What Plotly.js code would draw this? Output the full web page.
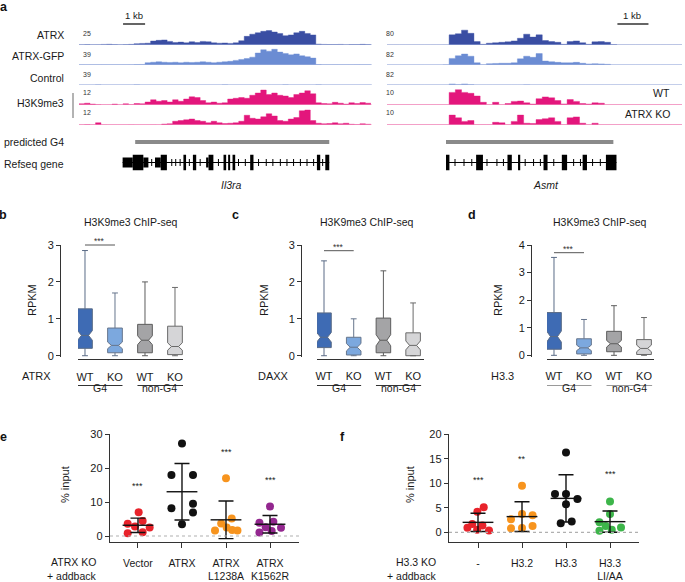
<!DOCTYPE html>
<html><head><meta charset="utf-8">
<script src="https://cdn.plot.ly/plotly-3.0.1.min.js"></script>
<style>html,body{margin:0;padding:0;background:#fff}#chart{width:685px;height:582px}</style>
</head><body><div id="chart"></div>
<script>
// ================= DATA =================
// --- panel a: coverage tracks (binned signal) ---
const il3raBinKb = 0.25;   // Il3ra locus bins
const asmtBinKb = 0.2;     // Asmt locus bins
const il3raAtrx = [0.5,0.6,0.4,0.5,0.8,1.0,0.7,0.5,0.6,0.9, 1.8,2.2,2.5, 5.5,6.5,7,5, 3.5,4,3,4.5,3.5, 5,4.5, 3,2.5,2.8,2.2,3, 6, 12,15,17,19, 20,18,16, 13,14, 17,19,16,14, 1.2,0.8,0.7,0.6,0.8,0.5,0.7,0.6,0.9,0.6];
const il3raAtrxGfp = [0.5,0.4,0.6,0.5,0.7,0.5,0.6,0.5,0.6,0.8,0.9,1.2, 5,6,7,6,5.5,6,5,6,5.5,6,7,6,5,6,7,8, 10,12,14,17, 26,33,30,34,28,25, 22,24,20,18,15, 1,0.6,0.5,0.7,0.5,0.6,0.5,0.8,0.5,0.6];
const il3raControl = [0.2,0.2,0.2,0.8,0.2,0.2,0.2,0.2,0.2,0.2, 0.8,0.2,0.2,0.2,0.2,0.2,0.2,0.2,0.2,0.2, 0.2,0.2,0.2,0.2,0.2,0.2,0.8,0.2,0.2,0.2, 0.2,0.2,0.2,0.2,0.2,0.2,0.2,0.8,0.2,0.2, 0.2,0.2,0.2,0.8,0.2,0.2,0.2,0.2,0.2,0.2, 0.2,0.2,0.2];
const il3raK9Wt = [0.8,1.2,0.6,0.3,0.2, 0.2,0.6,0.2,0.8,0.3,1.0,0.8, 2,3.5,2.5,3,2, 3.5,2.5,4,5.5,5,3, 1.5,2,1.2,1.5, 4,4.5,5,4.5, 6.5,8,10, 7,8,6.5,6, 5,7,8,9.5,7.5, 1.5,1,0.8,1.8,1.2,0.6,1.5,1,1.6,1.2];
const il3raK9Ko = [0.2,0.3,0.2,1.5,0.2, 0.1,0.1,0.1,0.1,0.2,0.1,0.1, 0.1,0.2,0.1,0.6,0.8, 2.5,3,3.5,4,3,2.5, 1.5,2.5,1.5,1, 1.2,1.5,2.5, 6.5,4.5,4,5.5, 7.5,6,3,2.5, 4,5,9.5,10,3, 1.2,0.8,1,1.5,0.8,1.2,0.5,0.3,0.8,0.5];

const asmtAtrx = [0.3,0.3,0.3,0.3,0.3,0.3,0.3,0.3,0.3,0.5, 45,50,66,52,15, 3, 8,10,12,14,18, 30,48,35,45, 20,15,12, 3, 15,18,10, 3, 14,15,12, 2, 0.3,0.3,0.3,0.3,0.3,0.3,0.3,0.3,0.3,0.3,0.3];
const asmtAtrxGfp = [0.4,0.3,0.4,0.3,0.3,0.4,0.3,0.3,0.4,0.6, 30,42,50,40,10, 1, 6,7,8,8,10, 28,40,35,52, 18,15,12,10, 10,12,8, 5,6,5,3, 0.4,0.4,0.4,0.4,0.4,0.4,0.4,0.4,0.4,0.4,0.4,0.4];
const asmtControl = [0.3,0.3,0.3,0.3,0.3,0.3,0.3,0.3,0.3,0.3, 5,2,5,2, 0.3,0.3,0.3,0.3,0.3,0.3,0.3,0.3,1,0.3,0.3,0.3,0.3,0.3,0.3,0.3, 0.3,0.3,0.3,0.3,0.3,0.3,0.3,0.3,0.3,0.3, 0.3,0.3,0.3,0.3,0.3,0.3,0.3,0.3];
const asmtK9Wt = [0.1,0.1,0.1,0.1,0.1,0.1,0.1,0.1,0.1,0.1, 7,8.5,7,6.5,5, 1.5, 0.2, 1.5, 0.2, 0.8, 2,2.2, 1.2, 0.5, 3.5,4.5,4,2.5, 0.6, 3,2, 0.8, 0.5, 1.2,1, 0.1,0.1,0.1,0.1,0.1,0.1,0.1,0.1,0.1,0.1,0.1,0.1,0.1];
const asmtK9Ko = [0.1,0.1,0.1,0.1,0.1,0.1,0.1,0.1,0.1,0.1, 5.5,4,2,2.5, 0.2,0.2,0.2, 1.5,1.2, 0.2, 2,5.5, 1,0.8, 3,3.5,4,2, 0.2, 4,4.5,1, 0.2, 1, 0.1,0.1,0.1,0.1,0.1,0.1,0.1,0.1,0.1,0.1,0.1,0.1,0.1,0.1];

const trackMaxIl3ra = [25, 39, 39, 12, 12];
const trackMaxAsmt = [80, 82, 82, 10, 10];
const trackNames = ['ATRX', 'ATRX-GFP', 'Control'];

// predicted G4 spans (kb)
const il3raG4 = [2.55, 11.36];
const asmtG4 = [1.9, 7.29];
// RefSeq gene models (kb)
const il3raExonStart = [1.98,2.44,2.92,3.45,3.71,4.74,5.17,5.77,5.88,6.56,6.77,6.97,7.77,10.8,11.18];
const il3raExonEnd   = [2.44,2.92,3.15,3.71,3.99,4.86,5.32,5.88,6.10,6.68,6.86,7.09,7.92,10.95,11.36];
const il3raExonCoding = [0,1,0,0,1,1,1,0,1,1,1,1,1,1,1];
const il3raStrandMarks = [3.3,4.21,4.39,4.59,5.01,5.5,6.33,7.24,7.55,8.15,8.5,8.8,9.14,9.44,9.74,10.05,10.35,10.65,11.06];
const asmtExonStart = [1.9,2.87,3.88,4.22,5.04,5.63,6.3,7.05];
const asmtExonEnd   = [2.01,3.09,4.02,4.29,5.17,5.8,6.44,7.39];
const asmtExonCoding = [1,1,1,1,1,1,1,1];
const asmtStrandMarks = [2.19,2.48,2.73,3.22,3.54,3.75,4.45,4.72,4.94,5.37,6.01,6.23,6.62,6.87];

// --- panels b-d: box stats (RPKM) ---
const boxTickText = ['WT','KO','WT','KO'];
const atrxQ1 = [0.20,0.08,0.08,0.03], atrxMed = [0.55,0.28,0.42,0.25], atrxQ3 = [1.27,0.75,0.85,0.80], atrxHi = [2.85,1.70,2.00,1.85], atrxLo = [0,0,0,0], atrxNotch = [0.13,0.09,0.12,0.10];
const daxxQ1 = [0.22,0.02,0.08,0.00], daxxMed = [0.50,0.23,0.42,0.28], daxxQ3 = [1.16,0.50,1.02,0.62], daxxHi = [2.57,1.00,2.30,1.43], daxxLo = [0,0,0,0], daxxNotch = [0.13,0.10,0.15,0.12];
const h33Q1 = [0.22,0.05,0.13,0.03], h33Med = [0.68,0.27,0.42,0.25], h33Q3 = [1.55,0.60,0.87,0.57], h33Hi = [3.55,1.30,1.80,1.37], h33Lo = [0,0,0,0], h33Notch = [0.20,0.10,0.12,0.12];

// --- panel e: % input ---
const eCats = ['Vector','ATRX','ATRX<br>L1238A','ATRX<br>K1562R'];
const eVector = [7.0,3.6,4.4,2.8,2.5,0.8,1.1];
const eAtrx = [27.3,18.0,18.0,8.2,9.5,6.9,3.5];
const eL1238A = [17.0,5.2,3.7,1.6,2.5,1.8,1.6];
const eK1562R = [8.7,3.9,4.2,2.6,2.4,1.0,1.5];
const eVectorJit = [0.015,-0.234,0.106,-0.068,0.265,-0.234,0.106];
const eAtrxJit = [0,-0.24,0.25,-0.24,0.25,0.25,0];
const eL1238AJit = [0,0.13,-0.11,-0.25,0.015,0.14,0.26];
const eK1562RJit = [0,-0.24,0.076,-0.098,0.25,-0.24,0.038];
const eStars = ['***','','***','***'];

// --- panel f: % input ---
const fCats = ['-','H3.2','H3.3','H3.3<br>LI/AA'];
const fNone = [0.95,1.7,4.2,5.1,1.4,0.5,0.35];
const fH32 = [9.5,2.65,3.75,3.5,0.8,0.9,1.3];
const fH33 = [16.3,7.8,7.8,6.8,5.7,1.85,2.2];
const fLIAA = [6.3,3.75,2.05,1.0,1.3,0.3,0.5];
const fNoneJit = [-0.24,-0.13,-0.015,0.13,0.1,-0.02,0.25];
const fH32Jit = [0,-0.25,0,0.24,-0.25,0,0.24];
const fH33Jit = [0,-0.25,0,0.26,0,-0.12,0.13];
const fLIAAJit = [0,0,-0.24,0.25,-0.1,-0.24,0.04];
const fStars = ['***','**','','***'];

// ================= HELPERS =================
const W = 685, H = 582;
const P = px => px / W;
const Q = py => 1 - py / H;
const FONT = 'Liberation Sans, Arial, Helvetica, sans-serif';
const mean = a => a.reduce((s, v) => s + v, 0) / a.length;
const sd = a => { const m = mean(a); return Math.sqrt(a.reduce((s, v) => s + (v - m) ** 2, 0) / (a.length - 1)); };

const traces = [];
const shapes = [];
const annotations = [];
const layout = {
  width: W, height: H, margin: {l: 0, r: 0, t: 0, b: 0},
  paper_bgcolor: '#fff', plot_bgcolor: 'rgba(0,0,0,0)', showlegend: false,
  font: {family: FONT, size: 10.5, color: '#1a1a1a'},
};
function ann(text, x, y, o) {
  annotations.push(Object.assign({text, x, y, xref: 'paper', yref: 'paper', showarrow: false,
    xanchor: 'center', yanchor: 'middle', font: {family: FONT, size: 10.5, color: '#1a1a1a'}}, o || {}));
}
const hidden = {visible: false, fixedrange: true, showgrid: false, zeroline: false};

// ================= PANEL a =================
layout.xaxis = Object.assign({domain: [P(79), P(372)], range: [0, 13.3]}, hidden);
layout.xaxis2 = Object.assign({domain: [P(387), P(682)], range: [0, 9.5]}, hidden);
const trackBases = [45, 65, 85, 105, 125];
const trackColors = ['#3a4ea3', '#6b8cd3', '#7f99d8', '#e3167c', '#e3167c'];
const baseColors = ['#a7b5df', '#a7b5df', '#a7b5df', '#f5abcc', '#f5abcc'];
const il3raTracks = [il3raAtrx, il3raAtrxGfp, il3raControl, il3raK9Wt, il3raK9Ko];
const asmtTracks = [asmtAtrx, asmtAtrxGfp, asmtControl, asmtK9Wt, asmtK9Ko];

function addTrack(vals, bin, max, xa, yIdx, k) {
  const yname = 'yaxis' + (yIdx === 1 ? '' : yIdx);
  layout[yname] = Object.assign({domain: [Q(trackBases[k]), Q(trackBases[k] - 18)], range: [0, max], anchor: xa}, hidden);
  const xs = vals.map((v, i) => i * bin).concat([vals.length * bin]);
  const ys = vals.concat([vals[vals.length - 1]]);
  traces.push({type: 'scatter', mode: 'lines', x: xs, y: ys, line: {shape: 'hv', width: 0.4, color: trackColors[k]},
    fill: 'tozeroy', fillcolor: trackColors[k], xaxis: xa, yaxis: 'y' + (yIdx === 1 ? '' : yIdx), hoverinfo: 'skip'});
  shapes.push({type: 'line', xref: xa + ' domain', x0: 0, x1: 1, yref: 'y' + (yIdx === 1 ? '' : yIdx), y0: 0, y1: 0,
    line: {color: baseColors[k], width: 1}});
}
il3raTracks.forEach((v, k) => addTrack(v, il3raBinKb, trackMaxIl3ra[k], 'x', k + 1, k));
asmtTracks.forEach((v, k) => addTrack(v, asmtBinKb, trackMaxAsmt[k], 'x2', k + 6, k));

// track labels
const labelY = [35, 56, 78];
trackNames.forEach((t, k) => ann(t, P(66), Q(labelY[k]), {xanchor: 'right'}));
ann('H3K9me3', P(66), Q(103), {xanchor: 'right'});
shapes.push({type: 'line', xref: 'paper', yref: 'paper', x0: P(73), x1: P(73), y0: Q(93), y1: Q(118), line: {color: '#9a9a9a', width: 1.5}});
const numY = [33, 54, 74, 93, 113];
trackMaxIl3ra.forEach((m, k) => ann(String(m), P(81), Q(numY[k]), {xanchor: 'left', font: {family: FONT, size: 7, color: '#333'}}));
trackMaxAsmt.forEach((m, k) => ann(String(m), P(384), Q(numY[k]), {xanchor: 'left', font: {family: FONT, size: 7, color: '#333'}}));
ann('WT', P(672), Q(93), {xanchor: 'right'});
ann('ATRX KO', P(672), Q(114), {xanchor: 'right'});
// scale bars
shapes.push({type: 'line', xref: 'x', x0: 2.0, x1: 3.0, yref: 'paper', y0: Q(24), y1: Q(24), line: {color: '#111', width: 1.3}});
ann('1 kb', P(134), Q(15), {font: {family: FONT, size: 9.5, color: '#1a1a1a'}});
shapes.push({type: 'line', xref: 'x2', x0: 7.42, x1: 8.42, yref: 'paper', y0: Q(24), y1: Q(24), line: {color: '#111', width: 1.3}});
ann('1 kb', P(632), Q(15), {font: {family: FONT, size: 9.5, color: '#1a1a1a'}});
// predicted G4
ann('predicted G4', P(66), Q(142), {xanchor: 'right'});
shapes.push({type: 'line', xref: 'x', x0: il3raG4[0], x1: il3raG4[1], yref: 'paper', y0: Q(142), y1: Q(142), line: {color: '#8a8a8a', width: 4}});
shapes.push({type: 'line', xref: 'x2', x0: asmtG4[0], x1: asmtG4[1], yref: 'paper', y0: Q(142), y1: Q(142), line: {color: '#8a8a8a', width: 4}});
// gene models
ann('Refseq gene', P(66), Q(164), {xanchor: 'right'});
layout.yaxis11 = Object.assign({domain: [Q(174.5), Q(150.5)], range: [-1, 1], anchor: 'x'}, hidden);
layout.yaxis12 = Object.assign({domain: [Q(174.5), Q(150.5)], range: [-1, 1], anchor: 'x2'}, hidden);
function gene(starts, ends, coding, marks, xa, ya) {
  shapes.push({type: 'line', xref: xa, yref: ya, x0: starts[0], x1: ends[ends.length - 1], y0: 0, y1: 0, line: {color: '#000', width: 1}});
  starts.forEach((s, i) => {
    const h = coding[i] ? 0.64 : 0.42;
    shapes.push({type: 'rect', xref: xa, yref: ya, x0: s, x1: ends[i], y0: -h, y1: h, fillcolor: '#000', line: {width: 0}});
  });
  traces.push({type: 'scatter', mode: 'markers', x: marks, y: marks.map(() => 0), xaxis: xa, yaxis: ya,
    marker: {symbol: 'line-ns', size: 5, line: {width: 1, color: '#000'}}, hoverinfo: 'skip'});
}
gene(il3raExonStart, il3raExonEnd, il3raExonCoding, il3raStrandMarks, 'x', 'y11');
gene(asmtExonStart, asmtExonEnd, asmtExonCoding, asmtStrandMarks, 'x2', 'y12');
ann('Il3ra', P(231), Q(185), {font: {family: FONT, size: 10.5, color: '#1a1a1a', style: 'italic'}});
ann('Asmt', P(546), Q(185), {font: {family: FONT, size: 10.5, color: '#1a1a1a', style: 'italic'}});

// ================= PANELS b-d =================
const boxFills = ['#3e6bb4', '#7ca8de', '#a4a4a6', '#d5d5d7'];
const boxLines = ['#5a6b86', '#66758c', '#5d5d5d', '#6a6a6a'];
function boxPanel(cfg) {
  const {xn, yn, xdom, xrange, xpos, ypos, ydom, yrange, ytick, q1, med, q3, hi, lo, notch} = cfg;
  layout['xaxis' + xn] = {domain: xdom, range: xrange, anchor: 'free', position: xpos, showline: true, linecolor: '#333', linewidth: 1,
    tickvals: [0, 1, 2, 3], ticktext: boxTickText, ticks: '', showgrid: false, zeroline: false, fixedrange: true,
    tickfont: {family: FONT, size: 11, color: '#1a1a1a'}, ticklabelstandoff: 7};
  layout['yaxis' + yn] = {domain: ydom, range: yrange, anchor: 'free', position: ypos, showline: true, linecolor: '#333', linewidth: 1,
    tickvals: ytick, ticks: 'outside', ticklen: 4, tickcolor: '#333', showgrid: false, zeroline: false, fixedrange: true,
    tickfont: {family: FONT, size: 11, color: '#1a1a1a'}};
  boxFills.forEach((c, i) => traces.push({type: 'box', x: [i], q1: [q1[i]], median: [med[i]], q3: [q3[i]],
    lowerfence: [lo[i]], upperfence: [hi[i]], notchspan: [notch[i]], notched: true, notchwidth: 0.26,
    width: 0.49, whiskerwidth: 0.4, fillcolor: c, line: {color: boxLines[i], width: 1}, boxpoints: false,
    xaxis: 'x' + xn, yaxis: 'y' + yn, hoverinfo: 'skip'}));
}
boxPanel({xn: 3, yn: 13, xdom: [P(78), P(183)], xrange: [-0.233, 3.267], xpos: Q(359.3), ypos: P(60),
  ydom: [Q(357.2), Q(245)], yrange: [-0.04, 3], ytick: [0, 1, 2, 3],
  q1: atrxQ1, med: atrxMed, q3: atrxQ3, hi: atrxHi, lo: atrxLo, notch: atrxNotch});
boxPanel({xn: 4, yn: 14, xdom: [P(317), P(424)], xrange: [-0.236, 3.367], xpos: Q(358.5), ypos: P(301),
  ydom: [Q(357.2), Q(245)], yrange: [-0.04, 3], ytick: [0, 1, 2, 3],
  q1: daxxQ1, med: daxxMed, q3: daxxQ3, hi: daxxHi, lo: daxxLo, notch: daxxNotch});
boxPanel({xn: 5, yn: 15, xdom: [P(547), P(654)], xrange: [-0.233, 3.333], xpos: Q(358.5), ypos: P(531),
  ydom: [Q(356.7), Q(245)], yrange: [-0.05, 4], ytick: [0, 1, 2, 3, 4],
  q1: h33Q1, med: h33Med, q3: h33Q3, hi: h33Hi, lo: h33Lo, notch: h33Notch});

const boxPanels = [
  {xa: 'x3', letter: 'b', lx: 3, tx: 131, row: 'ATRX', rowx: 53, ytx: 32, sigY: 245, grp: '#333'},
  {xa: 'x4', letter: 'c', lx: 235, tx: 367, row: 'DAXX', rowx: 291, ytx: 264, sigY: 250.7, grp: '#333'},
  {xa: 'x5', letter: 'd', lx: 472, tx: 600, row: 'H3.3', rowx: 516, ytx: 498, sigY: 252.7, grp: '#9a9a9a'},
];
boxPanels.forEach(b => {
  ann(b.letter, P(b.lx), Q(215), {font: {family: FONT, size: 12.5, color: '#111', weight: 'bold'}});
  ann('H3K9me3 ChIP-seq', P(b.tx), Q(222));
  ann('RPKM', P(b.ytx), Q(300), {textangle: -90, font: {family: FONT, size: 11, color: '#1a1a1a'}});
  ann(b.row, P(b.rowx), Q(376), {xanchor: 'right', font: {family: FONT, size: 11, color: '#1a1a1a'}});
  shapes.push({type: 'line', xref: b.xa, x0: 0, x1: 1, yref: 'paper', y0: Q(b.sigY), y1: Q(b.sigY), line: {color: '#555', width: 1}});
  annotations.push({text: '***', xref: b.xa, x: 0.5, yref: 'paper', y: Q(b.sigY - 4), showarrow: false, yanchor: 'middle', font: {family: FONT, size: 8.5, color: '#333'}});
  shapes.push({type: 'line', xref: b.xa, x0: -0.25, x1: 1.25, yref: 'paper', y0: Q(385.5), y1: Q(385.5), line: {color: b.grp, width: 1}});
  shapes.push({type: 'line', xref: b.xa, x0: 1.75, x1: 3.27, yref: 'paper', y0: Q(385.5), y1: Q(385.5), line: {color: b.grp, width: 1}});
  annotations.push({text: 'G4', xref: b.xa, x: 0.5, yref: 'paper', y: Q(396), showarrow: false, font: {family: FONT, size: 10.5, color: '#1a1a1a'}});
  annotations.push({text: 'non-G4', xref: b.xa, x: 2.5, yref: 'paper', y: Q(396), showarrow: false, font: {family: FONT, size: 10.5, color: '#1a1a1a'}});
});

// ================= PANELS e, f =================
function dotPanel(cfg) {
  const {xn, yn, xdom, xrange, yrange, ytick, cats, groups, jits, colors, stars, starY} = cfg;
  layout['xaxis' + xn] = {domain: xdom, range: xrange, anchor: 'y' + yn, showline: true, linecolor: '#333', linewidth: 1.2,
    tickvals: [0, 1, 2, 3], ticktext: cats, ticks: 'outside', ticklen: 5, tickcolor: '#333', showgrid: false, zeroline: false,
    fixedrange: true, tickfont: {family: FONT, size: 10.5, color: '#1a1a1a'}, ticklabelstandoff: 6};
  layout['yaxis' + yn] = {domain: [Q(541.7), Q(434.3)], range: yrange, anchor: 'x' + xn, showline: true, linecolor: '#333', linewidth: 1.2,
    tickvals: ytick, ticks: 'outside', ticklen: 4, tickcolor: '#333', showgrid: false, zeroline: false, fixedrange: true,
    tickfont: {family: FONT, size: 11, color: '#1a1a1a'}};
  shapes.push({type: 'line', xref: 'x' + xn + ' domain', x0: 0, x1: 1, yref: 'y' + yn, y0: 0, y1: 0, line: {color: '#b0b0b0', width: 1.2, dash: 'dot'}});
  groups.forEach((g, i) => traces.push({type: 'scatter', mode: 'markers', x: jits[i].map(j => i + j), y: g,
    marker: {size: 8, color: colors[i]}, xaxis: 'x' + xn, yaxis: 'y' + yn, hoverinfo: 'skip', cliponaxis: false}));
  traces.push({type: 'scatter', mode: 'markers', x: groups.map((g, i) => i), y: groups.map(mean),
    error_y: {type: 'data', array: groups.map(sd), visible: true, color: '#111', thickness: 1.4, width: 7.5},
    marker: {symbol: 'line-ew', size: 22, color: '#111', line: {width: 1.4, color: '#111'}},
    xaxis: 'x' + xn, yaxis: 'y' + yn, hoverinfo: 'skip', cliponaxis: false});
  stars.forEach((s, i) => { if (s) annotations.push({text: s, xref: 'x' + xn, x: i, yref: 'paper', y: Q(starY[i]), showarrow: false, font: {family: FONT, size: 9, color: '#222'}}); });
}
dotPanel({xn: 6, yn: 16, xdom: [P(110), P(299)], xrange: [-0.636, 3.659], yrange: [-1.68, 30], ytick: [0, 10, 20, 30],
  cats: eCats, groups: [eVector, eAtrx, eL1238A, eK1562R], jits: [eVectorJit, eAtrxJit, eL1238AJit, eK1562RJit],
  colors: ['#e8232b', '#111111', '#f7941e', '#93278f'], stars: eStars, starY: [493, 0, 459, 487]});
dotPanel({xn: 7, yn: 17, xdom: [P(449), P(639)], xrange: [-0.659, 3.659], yrange: [-1.92, 20], ytick: [0, 5, 10, 15, 20],
  cats: fCats, groups: [fNone, fH32, fH33, fLIAA], jits: [fNoneJit, fH32Jit, fH33Jit, fLIAAJit],
  colors: ['#e8232b', '#f7941e', '#111111', '#3db54a'], stars: fStars, starY: [487, 466, 0, 481]});
ann('e', P(3), Q(437), {font: {family: FONT, size: 12.5, color: '#111', weight: 'bold'}});
ann('f', P(342), Q(437), {font: {family: FONT, size: 12.5, color: '#111', weight: 'bold'}});
ann('% input', P(65), Q(485), {textangle: -90, font: {family: FONT, size: 11, color: '#1a1a1a'}});
ann('% input', P(410), Q(485), {textangle: -90, font: {family: FONT, size: 11, color: '#1a1a1a'}});
ann('ATRX KO', P(98), Q(562), {xanchor: 'right', font: {family: FONT, size: 10.5, color: '#1a1a1a'}});
ann('+ addback', P(98), Q(575.5), {xanchor: 'right', font: {family: FONT, size: 10.5, color: '#1a1a1a'}});
ann('H3.3 KO', P(438), Q(562), {xanchor: 'right', font: {family: FONT, size: 10.5, color: '#1a1a1a'}});
ann('+ addback', P(438), Q(575.5), {xanchor: 'right', font: {family: FONT, size: 10.5, color: '#1a1a1a'}});
ann('a', P(4), Q(7), {font: {family: FONT, size: 12.5, color: '#111', weight: 'bold'}});

layout.shapes = shapes;
layout.annotations = annotations;
Plotly.newPlot('chart', traces, layout, {staticPlot: true, displayModeBar: false});
</script>
</body></html>
